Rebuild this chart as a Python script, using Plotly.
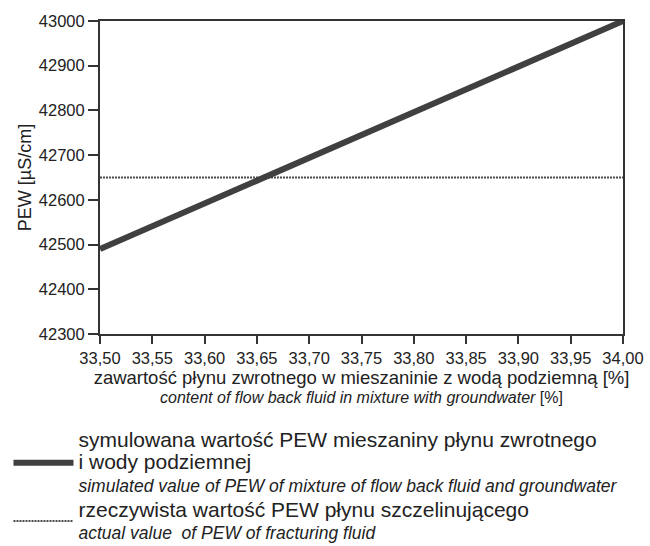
import plotly.graph_objects as go

# data
x_sim = [33.50, 34.00]
y_sim = [42490, 43000]
x_act = [33.50, 34.00]
y_act = [42650, 42650]

x_ticks = [33.50, 33.55, 33.60, 33.65, 33.70, 33.75, 33.80, 33.85, 33.90, 33.95, 34.00]
y_ticks = [42300, 42400, 42500, 42600, 42700, 42800, 42900, 43000]

BIG = "<span style='font-size:21px'>{}</span>"
ITAL = "<span style='font-size:17.5px'><i>{}</i></span>"
name_sim = (BIG.format("symulowana wartość PEW mieszaniny płynu zwrotnego") + "<br>" +
            BIG.format("i wody podziemnej") + "<br>" +
            ITAL.format("simulated value of PEW of mixture of flow back fluid and groundwater"))
name_act = (BIG.format("rzeczywista wartość PEW płynu szczelinującego") + "<br>" +
            ITAL.format("actual value  of PEW of fracturing fluid"))

x_title = ("<span style='font-size:18.5px'>zawartość płynu zwrotnego w mieszaninie z wodą podziemną [%]</span><br>"
           "<span style='font-size:16px'><i>content of flow back fluid in mixture with groundwater</i> [%]</span>")

FONT = "Liberation Sans, Arial, sans-serif"
INK = "#333333"

fig = go.Figure()
fig.add_trace(go.Scatter(x=x_act, y=y_act, mode="lines", name=name_act,
                         line=dict(color="#4a4a4a", width=2, dash="2px,1px")))
fig.add_trace(go.Scatter(x=x_sim, y=y_sim, mode="lines", name=name_sim,
                         line=dict(color="#404040", width=6)))

fig.update_layout(
    width=650, height=546,
    margin=dict(l=100, r=27, t=21, b=212, autoexpand=False),
    paper_bgcolor="white", plot_bgcolor="white",
    separators=", ",
    font=dict(family=FONT, size=16.5, color="#222222"),
    showlegend=True,
    legend=dict(x=-0.175, y=-0.285, xanchor="left", yanchor="top",
                bgcolor="rgba(0,0,0,0)",
                traceorder="reversed", font=dict(size=17, color="#222222"),
                tracegroupgap=0, itemwidth=60),
    xaxis=dict(range=[33.5, 34.0], tickvals=x_ticks, tickformat=".2f",
               showgrid=False, zeroline=False, showline=True, linecolor=INK, linewidth=2,
               mirror=True, ticks="outside", ticklen=8, tickcolor=INK, tickwidth=1.5,
               tickfont=dict(size=16.5),
               title=dict(text=x_title, font=dict(size=14.5), standoff=4)),
    yaxis=dict(range=[42300, 43000], tickvals=y_ticks, tickformat="d",
               showgrid=False, zeroline=False, showline=True, linecolor=INK, linewidth=2,
               mirror=True, ticks="outside", ticklen=10, tickcolor=INK, tickwidth=1.5,
               tickfont=dict(size=16.5),
               title=dict(text="PEW [µS/cm]", font=dict(size=18), standoff=3)),
)

fig.write_html("out.html", config={"displayModeBar": False},
               post_script="document.body.style.margin='0';document.body.style.overflow='hidden';")
